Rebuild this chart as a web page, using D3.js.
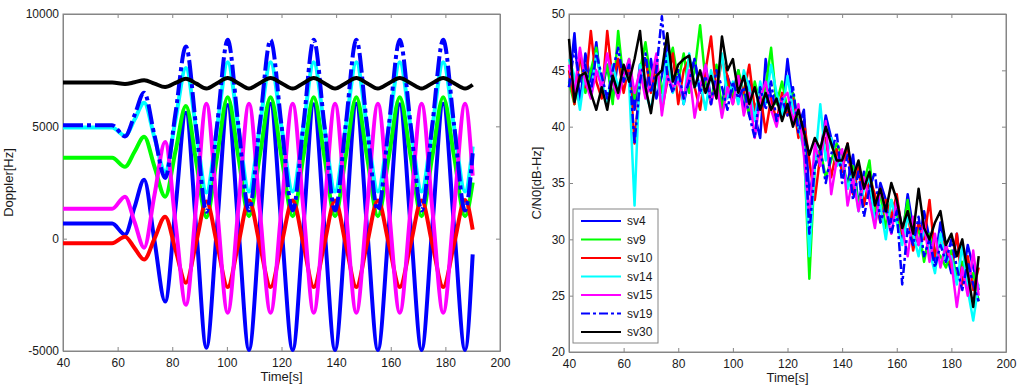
<!DOCTYPE html>
<html>
<head>
<meta charset="utf-8">
<script src="https://cdn.jsdelivr.net/npm/d3@7"></script>
<style>
body { margin: 0; background: #fff; }
svg { display: block; font-family: "Liberation Sans", Arial, sans-serif; }
</style>
</head>
<body>
<div id="chart"></div>
<script>
// ---- Doppler panel: sample times (extrema and crossings) and values [Hz]
var dopT = [40, 58, 62.7, 66.2, 69.7, 73.5, 77.4, 81.2, 85, 88.8,
	92.5, 96.4, 100.3, 104.2, 108.1, 112, 116, 120, 124.1, 128,
	131.8, 135.7, 139.6, 143.5, 147.4, 151.3, 155.3, 159.3, 163.3, 167.3,
	171.3, 175.2, 179.2, 183.2, 187.2, 190];
var dopSv4 = [670, 670, 180, 1400, 2620, -100, -2800, 1400, 5600, 400,
	-4850, 550, 5950, 520, -4950, 500, 6000, 520, -4950, 500,
	5980, 520, -4950, 500, 6000, 520, -4950, 500, 5980, 520,
	-4950, 500, 6000, 520, -4950, -700];
var dopSv9 = [3600, 3600, 3200, 3870, 4540, 3200, 1870, 3900, 5900, 3400,
	950, 3650, 6300, 3650, 1000, 3650, 6300, 3650, 1000, 3650,
	6300, 3650, 1000, 3650, 6300, 3650, 1000, 3650, 6300, 3650,
	1000, 3650, 6300, 3650, 1000, 2500];
var dopSv10 = [-200, -200, 90, -420, -930, 0, 980, -500, -1960, -150,
	1650, -230, -2150, -230, 1700, -230, -2150, -230, 1700, -230,
	-2150, -230, 1700, -230, -2150, -230, 1700, -230, -2150, -230,
	1700, -230, -2150, -230, 1720, 400];
var dopSv14 = [4950, 4950, 4580, 5300, 6050, 4500, 2980, 5300, 7600, 4800,
	2050, 4950, 7850, 4950, 2100, 4950, 7850, 4950, 2100, 4950,
	7850, 4950, 2100, 4950, 7850, 4950, 2100, 4950, 7850, 4950,
	2100, 4950, 7850, 4950, 2100, 4100];
var dopSv15 = [1330, 1330, 1870, 740, -400, 1950, 4300, 700, -2940, 1550,
	6000, 1350, -3300, 1350, 6000, 1350, -3300, 1350, 6000, 1350,
	-3300, 1350, 6000, 1350, -3300, 1350, 6000, 1350, -3300, 1350,
	6000, 1350, -3300, 1350, 6000, 2800];
var dopSv19 = [5050, 5050, 4550, 5500, 6500, 4600, 2700, 5600, 8550, 4900,
	1200, 5050, 8850, 5050, 1250, 5050, 8850, 5050, 1250, 5050,
	8850, 5050, 1250, 5050, 8850, 5050, 1250, 5050, 8850, 5050,
	1250, 5050, 8850, 5050, 1250, 3800];
var dopSv30 = [6950, 6950, 6880, 6960, 7050, 6900, 6750, 6930, 7120, 6900,
	6680, 6920, 7150, 6920, 6680, 6920, 7150, 6920, 6680, 6920,
	7150, 6920, 6680, 6920, 7150, 6920, 6680, 6920, 7150, 6920,
	6680, 6920, 7150, 6920, 6680, 6850];

// ---- C/N0 panel: sample times [s] and values [dB-Hz]
var cnoT = [40, 42, 44, 46, 48, 50, 52, 54, 56, 58,
	60, 62, 64, 66, 68, 70, 72, 74, 76, 78,
	80, 82, 84, 86, 88, 90, 92, 94, 96, 98,
	100, 102, 104, 106, 108, 110, 112, 114, 116, 118,
	120, 122, 124, 126, 128, 130, 132, 134, 136, 138,
	140, 142, 144, 146, 148, 150, 152, 154, 156, 158,
	160, 162, 164, 166, 168, 170, 172, 174, 176, 178,
	180, 182, 184, 186, 188, 190];
var cnoSv4 = [43.5, 48.3, 42.0, 46.5, 44.0, 47.5, 43.0, 45.5, 42.5, 46.0,
	44.0, 45.0, 41.5, 45.5, 43.0, 46.0, 42.5, 44.5, 47.5, 44.0,
	45.0, 42.0, 44.5, 46.0, 43.0, 45.5, 42.5, 44.0, 42.0, 44.5,
	43.0, 45.0, 41.5, 44.0, 41.0, 39.0, 46.0, 42.5, 43.0, 41.0,
	46.0, 42.0, 40.0, 41.5, 34.0, 36.5, 37.5, 41.0, 39.0, 37.0,
	36.5, 35.0, 37.5, 33.0, 36.0, 34.5, 32.0, 35.0, 33.5, 31.5,
	33.0, 30.0, 34.0, 31.0, 29.5, 32.5, 30.0, 28.0, 31.5, 29.0,
	27.0, 30.5, 26.5, 29.5, 27.5, 25.5];
var cnoSv9 = [44.0, 42.0, 46.5, 43.0, 45.0, 47.0, 43.5, 45.5, 42.0, 48.5,
	44.0, 46.0, 42.5, 45.0, 47.5, 44.0, 46.0, 43.0, 45.5, 47.0,
	44.0, 46.5, 43.0, 45.0, 49.0, 44.0, 42.0, 45.5, 41.5, 44.0,
	42.5, 45.0, 43.0, 41.0, 44.0, 42.0, 43.5, 47.0, 42.0, 44.0,
	41.5, 43.0, 40.5, 38.5, 26.5, 36.5, 38.0, 35.5, 37.0, 38.5,
	37.5, 34.5, 36.5, 33.0, 35.0, 37.0, 32.5, 34.0, 31.0, 33.5,
	32.0, 30.5, 33.5, 29.5, 31.0, 28.0, 30.5, 29.0, 28.5, 27.5,
	29.0, 26.5, 28.0, 25.5, 27.0, 24.5];
var cnoSv10 = [45.0, 42.0, 46.5, 43.5, 48.5, 44.0, 42.5, 48.5, 44.0, 46.0,
	43.0, 45.5, 38.5, 44.0, 46.0, 43.0, 45.5, 41.5, 44.0, 46.5,
	42.0, 45.0, 46.0, 43.5, 41.5, 45.0, 48.0, 43.0, 46.0, 44.5,
	42.0, 44.5, 43.0, 45.5, 41.5, 43.0, 39.5, 42.5, 40.5, 43.0,
	41.0, 42.5, 39.0, 40.5, 37.0, 33.5, 37.5, 39.0, 35.5, 38.0,
	36.0, 38.5, 34.0, 36.5, 33.0, 35.5, 34.0, 31.5, 33.5, 32.0,
	34.0, 30.5, 32.5, 29.0, 31.5, 30.0, 33.5, 28.5, 30.0, 29.5,
	27.5, 30.5, 26.0, 28.5, 25.5, 27.5];
var cnoSv14 = [46.0, 44.5, 41.5, 45.0, 43.0, 46.5, 44.0, 42.0, 45.5, 43.5,
	45.0, 44.0, 33.0, 45.5, 43.0, 41.5, 44.5, 42.0, 46.5, 43.0,
	44.5, 42.0, 46.5, 43.5, 44.0, 41.5, 45.0, 43.0, 46.5, 42.5,
	44.0, 42.0, 45.0, 43.5, 40.5, 44.0, 42.0, 45.5, 43.0, 41.0,
	44.5, 41.5, 40.0, 38.0, 28.5, 36.5, 42.0, 37.0, 39.0, 36.5,
	37.0, 34.5, 36.0, 32.5, 34.5, 35.5, 31.5, 33.0, 30.0, 33.5,
	31.5, 29.5, 32.0, 30.5, 28.5, 31.0, 29.0, 27.0, 30.5, 28.0,
	28.5, 26.0, 29.5, 25.5, 22.8, 26.0];
var cnoSv15 = [45.5, 43.0, 47.0, 44.0, 42.5, 45.0, 43.5, 46.5, 44.0, 42.5,
	44.5, 46.0, 43.0, 45.0, 42.5, 44.0, 46.5, 41.0, 44.5, 43.5,
	44.0, 42.5, 45.0, 40.8, 43.5, 45.5, 42.0, 44.0, 40.8, 43.5,
	42.0, 44.5, 41.0, 43.0, 39.0, 42.5, 44.0, 41.5, 40.0, 42.5,
	43.0, 40.5, 42.0, 37.5, 32.0, 38.5, 36.5, 40.5, 34.0, 37.0,
	38.0, 33.0, 35.5, 32.5, 35.5, 33.5, 31.0, 34.5, 32.5, 30.5,
	33.5, 31.0, 28.5, 32.0, 29.5, 31.5, 28.0, 30.5, 27.5, 29.5,
	28.0, 24.0, 27.5, 25.0, 29.0, 25.0];
var cnoSv19 = [43.5, 47.0, 44.0, 45.5, 43.0, 46.5, 44.5, 42.5, 45.0, 47.0,
	44.0, 45.5, 38.5, 44.0, 46.5, 43.0, 45.0, 49.8, 44.5, 43.0,
	45.0, 42.5, 44.0, 46.0, 43.0, 44.5, 42.0, 45.0, 43.5, 41.5,
	44.0, 42.5, 43.5, 41.0, 39.0, 43.5, 41.5, 44.0, 40.5, 42.5,
	41.0, 43.5, 39.5, 41.0, 30.5, 36.5, 38.0, 35.0, 37.5, 39.5,
	35.0, 37.5, 33.5, 36.0, 32.0, 34.5, 36.0, 31.5, 33.0, 30.5,
	32.5, 26.0, 31.0, 29.5, 32.0, 28.5, 30.0, 27.5, 29.5, 28.0,
	30.0, 27.5, 25.5, 28.0, 26.0, 24.5];
var cnoSv30 = [47.8, 42.2, 44.5, 44.8, 43.0, 41.5, 43.5, 41.5, 44.5, 43.0,
	45.5, 44.0, 46.0, 48.5, 43.5, 41.2, 44.5, 45.0, 48.3, 44.0,
	45.5, 46.0, 46.3, 43.5, 45.0, 43.0, 44.5, 42.5, 48.0, 45.0,
	46.0, 43.0, 44.5, 42.0, 43.5, 41.5, 43.0, 41.5, 42.5, 40.5,
	42.0, 40.0, 41.5, 39.5, 37.5, 39.0, 38.0, 40.0, 38.5, 37.0,
	37.0, 38.5, 35.5, 37.0, 34.5, 36.0, 33.0, 34.5, 32.5, 35.0,
	33.5, 31.0, 32.5, 30.5, 34.5, 31.0, 30.0, 31.5, 32.5, 29.5,
	30.5, 28.5, 30.0, 27.0, 24.0, 28.5];

var svNames = ["sv4", "sv9", "sv10", "sv14", "sv15", "sv19", "sv30"];
var svColors = ["#0000ff", "#00ff00", "#ff0000", "#00ffff", "#ff00ff", "#0000ff", "#000000"];
var xTicks = [40, 60, 80, 100, 120, 140, 160, 180, 200];
var dopTicks = [-5000, 0, 5000, 10000];
var cnoTicks = [20, 25, 30, 35, 40, 45, 50];

var dopSeries = [dopSv4, dopSv9, dopSv10, dopSv14, dopSv15, dopSv19, dopSv30];
var cnoSeries = [cnoSv4, cnoSv9, cnoSv10, cnoSv14, cnoSv15, cnoSv19, cnoSv30];

var W = 1024, H = 391;
var axisColor = "#868686", textColor = "#1a1a1a";
var plainNum = function(d) { return String(d); };

var svg = d3.select("#chart").append("svg")
	.attr("width", W).attr("height", H);

function drawPanel(left, top, width, height, yDomain, yTicks, yTitle, titleX, times, series, lw, dash, curve) {
	var g = svg.append("g").attr("transform", "translate(" + left + "," + top + ")");
	var x = d3.scaleLinear().domain([40, 200]).range([0, width]);
	var y = d3.scaleLinear().domain(yDomain).range([height, 0]);

	// box
	g.append("rect").attr("width", width).attr("height", height)
		.attr("fill", "#fff").attr("stroke", axisColor).attr("stroke-width", 1);

	var styleAxis = function(sel) {
		sel.select(".domain").attr("stroke", axisColor);
		sel.selectAll(".tick line").attr("stroke", axisColor);
		sel.selectAll(".tick text").attr("fill", textColor).attr("font-size", "12px");
	};

	g.append("g").attr("transform", "translate(0," + height + ")")
		.call(d3.axisBottom(x).tickValues(xTicks).tickFormat(plainNum)
			.tickSizeInner(-4).tickSizeOuter(0).tickPadding(7))
		.call(styleAxis);
	g.append("g")
		.call(d3.axisTop(x).tickValues(xTicks).tickSizeInner(-4).tickSizeOuter(0).tickFormat(""))
		.call(styleAxis);
	g.append("g")
		.call(d3.axisLeft(y).tickValues(yTicks).tickFormat(plainNum)
			.tickSizeInner(-4).tickSizeOuter(0).tickPadding(4))
		.call(styleAxis);
	g.append("g").attr("transform", "translate(" + width + ",0)")
		.call(d3.axisRight(y).tickValues(yTicks).tickSizeInner(-4).tickSizeOuter(0).tickFormat(""))
		.call(styleAxis);

	var line = d3.line()
		.x(function(d) { return x(d[0]); })
		.y(function(d) { return y(d[1]); })
		.curve(curve);

	series.forEach(function(vals, i) {
		g.append("path")
			.datum(vals.map(function(v, k) { return [times[k], v]; }))
			.attr("d", line)
			.attr("fill", "none")
			.attr("stroke", svColors[i])
			.attr("stroke-width", lw)
			.attr("stroke-linejoin", "round")
			.attr("stroke-dasharray", svNames[i] == "sv19" ? dash : null);
	});

	// axis titles
	g.append("text")
		.attr("x", width / 2).attr("y", height + 30)
		.attr("text-anchor", "middle").attr("font-size", "13px").attr("fill", textColor)
		.text("Time[s]");
	g.append("text")
		.attr("transform", "translate(" + titleX + "," + (height / 2) + ") rotate(-90)")
		.attr("text-anchor", "middle").attr("font-size", "13px").attr("fill", textColor)
		.text(yTitle);
	return g;
}

drawPanel(63, 14, 437, 337, [-5000, 10000], dopTicks, "Doppler[Hz]", -50,
	dopT, dopSeries, 4, "20,4,4,4", d3.curveMonotoneX);

var right = drawPanel(569, 14, 437, 338, [20, 50], cnoTicks, "C/N0[dB-Hz]", -28,
	cnoT, cnoSeries, 2.5, "9,3,3,3", d3.curveLinear);

// legend
var leg = right.append("g").attr("transform", "translate(4,195)");
leg.append("rect").attr("width", 85).attr("height", 134)
	.attr("fill", "#fff").attr("stroke", axisColor).attr("stroke-width", 1);
svNames.forEach(function(name, i) {
	var ly = 12 + i * 18.5;
	leg.append("line")
		.attr("x1", 8).attr("x2", 48).attr("y1", ly).attr("y2", ly)
		.attr("stroke", svColors[i]).attr("stroke-width", 2)
		.attr("stroke-dasharray", name == "sv19" ? "9,3,3,3" : null);
	leg.append("text")
		.attr("x", 54).attr("y", ly).attr("dy", "0.35em")
		.attr("font-size", "12px").attr("fill", textColor)
		.text(name);
});
</script>
</body>
</html>
